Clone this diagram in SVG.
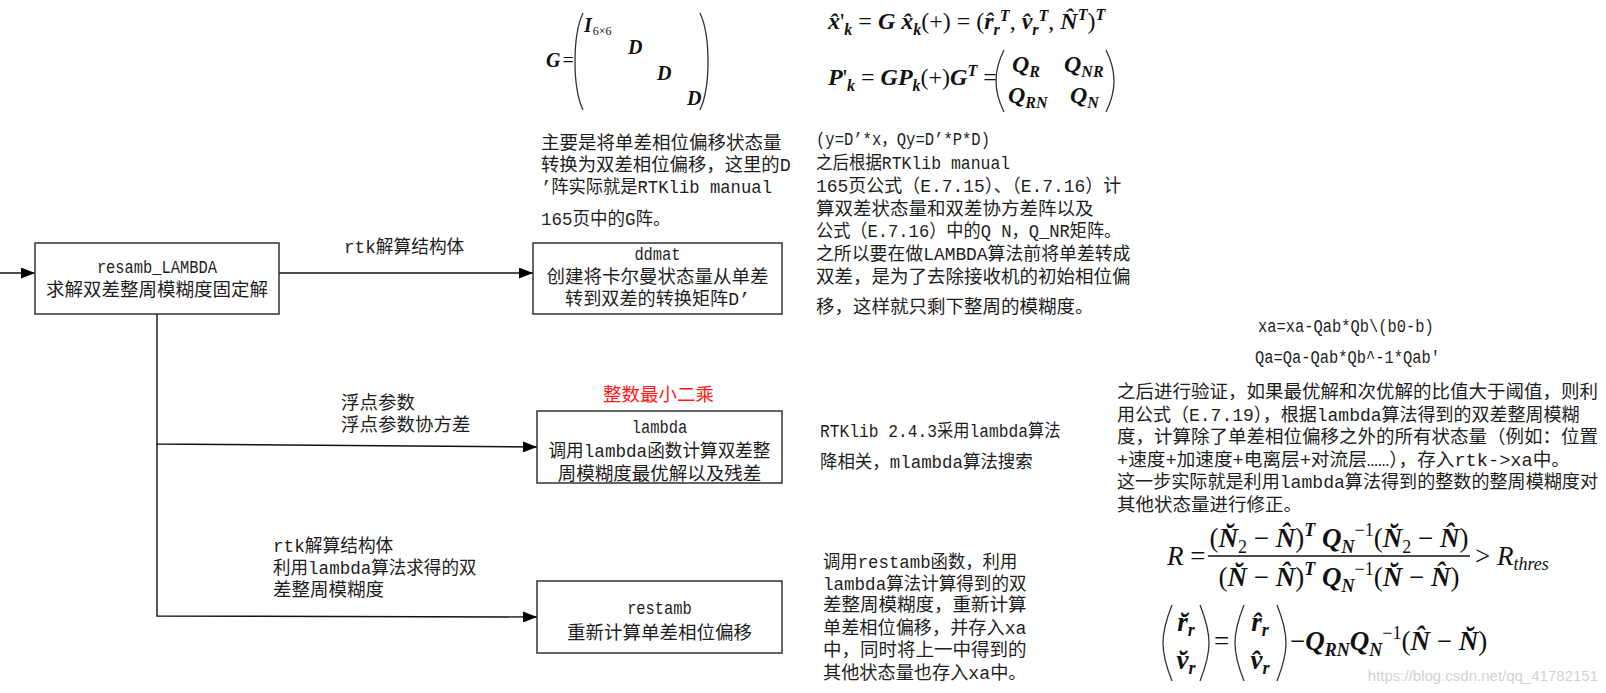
<svg xmlns="http://www.w3.org/2000/svg" width="1606" height="693" viewBox="0 0 1606 693">
<defs>
<marker id="arr" markerUnits="userSpaceOnUse" markerWidth="14" markerHeight="11" refX="14" refY="5.5" orient="auto">
<path d="M0,0 L14,5.5 L0,11 z" fill="#000"/>
</marker>
<style>
.box{fill:#fff;stroke:#333;stroke-width:1.5}
.ln{fill:none;stroke:#111;stroke-width:1.4}
.t{font-family:"Liberation Mono","Noto Sans CJK SC",monospace;font-size:18.5px;fill:#1e1e1e}
.c{text-anchor:middle}
.red{fill:#ff1a1a}
.mi{font-family:"Liberation Serif",serif;font-style:italic;font-weight:bold;fill:#111}
.mn{font-weight:normal}
.mu{font-style:normal;font-weight:normal}
.par{fill:none;stroke:#333;stroke-width:1.3}
.wm{font-family:"Liberation Sans",sans-serif;font-size:15px;fill:#d2d2d2}
</style>
</defs>
<rect width="1606" height="693" fill="#fff"/>

<g id="connectors">
<path class="ln" d="M0,273 L35,273" marker-end="url(#arr)"/>
<path class="ln" d="M279,273 L533,273" marker-end="url(#arr)"/>
<path class="ln" d="M157,314 L157,444 L537,447" marker-end="url(#arr)"/>
<path class="ln" d="M157,444 L157,616 L537,617" marker-end="url(#arr)"/>
</g>

<g id="n-resamb">
<rect class="box" x="35" y="243" width="244" height="71"/>
<text class="t c" x="157" y="273" textLength="120.25" lengthAdjust="spacingAndGlyphs">resamb_LAMBDA</text>
<text class="t c" x="157" y="296" textLength="222" lengthAdjust="spacingAndGlyphs">求解双差整周模糊度固定解</text>
</g>

<g id="n-ddmat">
<rect class="box" x="533" y="243" width="249" height="71"/>
<text class="t c" x="657.5" y="260" textLength="46.25" lengthAdjust="spacingAndGlyphs">ddmat</text>
<text class="t c" x="657.5" y="282.5" textLength="222" lengthAdjust="spacingAndGlyphs">创建将卡尔曼状态量从单差</text>
<text class="t c" x="657.5" y="305" textLength="185" lengthAdjust="spacingAndGlyphs">转到双差的转换矩阵D’</text>
</g>

<g id="n-lambda">
<rect class="box" x="537" y="411" width="245" height="72"/>
<text class="t c" x="659.5" y="433" textLength="55.5" lengthAdjust="spacingAndGlyphs">lambda</text>
<text class="t c" x="659.5" y="457" textLength="222" lengthAdjust="spacingAndGlyphs">调用lambda函数计算双差整</text>
<text class="t c" x="659.5" y="480" textLength="203.5" lengthAdjust="spacingAndGlyphs">周模糊度最优解以及残差</text>
</g>

<g id="n-restamb">
<rect class="box" x="537" y="581" width="245" height="72"/>
<text class="t c" x="659.5" y="614" textLength="64.75" lengthAdjust="spacingAndGlyphs">restamb</text>
<text class="t c" x="659.5" y="639" textLength="185" lengthAdjust="spacingAndGlyphs">重新计算单差相位偏移</text>
</g>

<g id="labels">
<text class="t" x="344" y="253" textLength="120.25" lengthAdjust="spacingAndGlyphs">rtk解算结构体</text>
<text class="t" x="341" y="409" textLength="74" lengthAdjust="spacingAndGlyphs">浮点参数</text>
<text class="t" x="341" y="431" textLength="129.5" lengthAdjust="spacingAndGlyphs">浮点参数协方差</text>
<text class="t" x="273" y="552" textLength="120.25" lengthAdjust="spacingAndGlyphs">rtk解算结构体</text>
<text class="t" x="273" y="574" textLength="203.5" lengthAdjust="spacingAndGlyphs">利用lambda算法求得的双</text>
<text class="t" x="273" y="596" textLength="111" lengthAdjust="spacingAndGlyphs">差整周模糊度</text>
<text class="t red" x="603" y="401" textLength="111" lengthAdjust="spacingAndGlyphs">整数最小二乘</text>
</g>

<g id="note-ddmat">
<text class="t" x="541" y="149" textLength="240.5" lengthAdjust="spacingAndGlyphs">主要是将单差相位偏移状态量</text>
<text class="t" x="541" y="171" textLength="249.75" lengthAdjust="spacingAndGlyphs">转换为双差相位偏移，这里的D</text>
<text class="t" x="541" y="193" textLength="231" lengthAdjust="spacingAndGlyphs">’阵实际就是RTKlib manual</text>
<text class="t" x="541" y="225" textLength="129.5" lengthAdjust="spacingAndGlyphs">165页中的G阵。</text>
</g>

<g id="note-dd">
<text class="t" x="816" y="145" textLength="174" lengthAdjust="spacingAndGlyphs">(y=D’*x，Qy=D’*P*D)</text>
<text class="t" x="816" y="169" textLength="194.25" lengthAdjust="spacingAndGlyphs">之后根据RTKlib manual</text>
<text class="t" x="816" y="192" textLength="305.25" lengthAdjust="spacingAndGlyphs">165页公式（E.7.15）、（E.7.16）计</text>
<text class="t" x="816" y="215" textLength="277.5" lengthAdjust="spacingAndGlyphs">算双差状态量和双差协方差阵以及</text>
<text class="t" x="816" y="237" textLength="305.25" lengthAdjust="spacingAndGlyphs">公式（E.7.16）中的Q N，Q_NR矩阵。</text>
<text class="t" x="816" y="260" textLength="314.5" lengthAdjust="spacingAndGlyphs">之所以要在做LAMBDA算法前将单差转成</text>
<text class="t" x="816" y="283" textLength="314.5" lengthAdjust="spacingAndGlyphs">双差，是为了去除接收机的初始相位偏</text>
<text class="t" x="816" y="313" textLength="277.5" lengthAdjust="spacingAndGlyphs">移，这样就只剩下整周的模糊度。</text>
</g>

<g id="note-lambda">
<text class="t" x="820" y="437" textLength="240.5" lengthAdjust="spacingAndGlyphs">RTKlib 2.4.3采用lambda算法</text>
<text class="t" x="820" y="468" textLength="212.75" lengthAdjust="spacingAndGlyphs">降相关，mlambda算法搜索</text>
</g>

<g id="note-restamb">
<text class="t" x="823" y="568" textLength="194.25" lengthAdjust="spacingAndGlyphs">调用restamb函数，利用</text>
<text class="t" x="823" y="590" textLength="203.5" lengthAdjust="spacingAndGlyphs">lambda算法计算得到的双</text>
<text class="t" x="823" y="611" textLength="203.5" lengthAdjust="spacingAndGlyphs">差整周模糊度，重新计算</text>
<text class="t" x="823" y="634" textLength="203.5" lengthAdjust="spacingAndGlyphs">单差相位偏移，并存入xa</text>
<text class="t" x="823" y="656" textLength="203.5" lengthAdjust="spacingAndGlyphs">中，同时将上一中得到的</text>
<text class="t" x="823" y="679" textLength="203.5" lengthAdjust="spacingAndGlyphs">其他状态量也存入xa中。</text>
</g>

<g id="note-fix">
<text class="t" x="1258" y="332" textLength="175.75" lengthAdjust="spacingAndGlyphs">xa=xa-Qab*Qb\(b0-b)</text>
<text class="t" x="1255" y="363" textLength="185" lengthAdjust="spacingAndGlyphs">Qa=Qa-Qab*Qb^-1*Qab'</text>
<text class="t" x="1117" y="398" textLength="481" lengthAdjust="spacingAndGlyphs">之后进行验证，如果最优解和次优解的比值大于阈值，则利</text>
<text class="t" x="1117" y="421" textLength="462.5" lengthAdjust="spacingAndGlyphs">用公式（E.7.19），根据lambda算法得到的双差整周模糊</text>
<text class="t" x="1117" y="443" textLength="481" lengthAdjust="spacingAndGlyphs">度，计算除了单差相位偏移之外的所有状态量（例如：位置</text>
<text class="t" x="1117" y="466" textLength="453" lengthAdjust="spacingAndGlyphs">+速度+加速度+电离层+对流层……），存入rtk-&gt;xa中。</text>
<text class="t" x="1117" y="488" textLength="481" lengthAdjust="spacingAndGlyphs">这一步实际就是利用lambda算法得到的整数的整周模糊度对</text>
<text class="t" x="1117" y="511" textLength="185" lengthAdjust="spacingAndGlyphs">其他状态量进行修正。</text>
</g>

<g id="formula-G">
<text class="mi" x="546" y="67" font-size="20">G<tspan class="mu" dx="2">=</tspan></text>
<path class="par" d="M583,13 C576,28 575,44 575,61.5 C575,79 576,95 583,110"/>
<path class="par" d="M700,13 C707,28 708,44 708,61.5 C708,79 707,95 700,110"/>
<text class="mi" x="584" y="32" font-size="20">I<tspan class="mu" font-size="12" dx="1" dy="3">6×6</tspan></text>
<text class="mi" x="628" y="54" font-size="20">D</text>
<text class="mi" x="657" y="80" font-size="20">D</text>
<text class="mi" x="687" y="105" font-size="20">D</text>
</g>

<g id="formula-x">
<text class="mi" x="828" y="29" font-size="24">x̂<tspan class="mu">'</tspan><tspan font-size="16" dy="6">k</tspan><tspan class="mu" dy="-6"> = </tspan>G x̂<tspan font-size="16" dy="6">k</tspan><tspan class="mu" dy="-6">(+) = (</tspan>r̂<tspan font-size="16" dy="6">r</tspan><tspan font-size="16" dy="-14">T</tspan><tspan class="mu" dy="8">, </tspan>v̂<tspan font-size="16" dy="6">r</tspan><tspan font-size="16" dy="-14">T</tspan><tspan class="mu" dy="8">, </tspan>N̂<tspan font-size="16" dy="-9">T</tspan><tspan class="mu" dy="9">)</tspan><tspan font-size="16" dy="-9">T</tspan></text>
<text class="mi" x="828" y="85" font-size="24">P<tspan class="mu">'</tspan><tspan font-size="16" dy="6">k</tspan><tspan class="mu" dy="-6"> = </tspan>GP<tspan font-size="16" dy="6">k</tspan><tspan class="mu" dy="-6">(+)</tspan>G<tspan font-size="16" dy="-9">T</tspan><tspan class="mu" dy="9"> =</tspan></text>
<path class="par" d="M1004,50 C997,64 996,72 996,81 C996,90 997,98 1004,112"/>
<path class="par" d="M1106,50 C1113,64 1114,72 1114,81 C1114,90 1113,98 1106,112"/>
<text class="mi" x="1012" y="72" font-size="24">Q<tspan font-size="16" dy="5">R</tspan></text>
<text class="mi" x="1064" y="72" font-size="24">Q<tspan font-size="16" dy="5">NR</tspan></text>
<text class="mi" x="1008" y="103" font-size="24">Q<tspan font-size="16" dy="5">RN</tspan></text>
<text class="mi" x="1070" y="103" font-size="24">Q<tspan font-size="16" dy="5">N</tspan></text>
</g>

<g id="formula-R">
<text class="mi mn" x="1167" y="565" font-size="27">R<tspan class="mu"> =</tspan></text>
<text class="mi c" x="1339" y="547" font-size="27"><tspan class="mu">(</tspan>N̆<tspan class="mu" font-size="18" dy="6">2</tspan><tspan class="mu" dy="-6"> − </tspan>N̂<tspan class="mu">)</tspan><tspan font-size="18" dy="-11">T</tspan><tspan dy="11"> Q</tspan><tspan font-size="18" dy="6">N</tspan><tspan class="mu" font-size="18" dy="-17">−1</tspan><tspan class="mu" dy="11">(</tspan>N̆<tspan class="mu" font-size="18" dy="6">2</tspan><tspan class="mu" dy="-6"> − </tspan>N̂<tspan class="mu">)</tspan></text>
<line x1="1208" y1="556" x2="1470" y2="556" stroke="#111" stroke-width="1.5"/>
<text class="mi c" x="1339" y="586" font-size="27"><tspan class="mu">(</tspan>N̆<tspan class="mu"> − </tspan>N̂<tspan class="mu">)</tspan><tspan font-size="18" dy="-11">T</tspan><tspan dy="11"> Q</tspan><tspan font-size="18" dy="6">N</tspan><tspan class="mu" font-size="18" dy="-17">−1</tspan><tspan class="mu" dy="11">(</tspan>N̆<tspan class="mu"> − </tspan>N̂<tspan class="mu">)</tspan></text>
<text class="mi mn" x="1475" y="565" font-size="27"><tspan class="mu">&gt; </tspan>R<tspan font-size="18" dy="5">thres</tspan></text>
</g>

<g id="formula-rv">
<path class="par" d="M1172,605 C1164,625 1163,635 1163,643 C1163,651 1164,661 1172,681"/>
<path class="par" d="M1200,605 C1208,625 1209,635 1209,643 C1209,651 1208,661 1200,681"/>
<text class="mi c" x="1186" y="631" font-size="27">r̆<tspan font-size="18" dy="5">r</tspan></text>
<text class="mi c" x="1186" y="669" font-size="27">v̆<tspan font-size="18" dy="5">r</tspan></text>
<text class="mi mu" x="1214" y="650" font-size="27">=</text>
<path class="par" d="M1244,605 C1236,625 1235,635 1235,643 C1235,651 1236,661 1244,681"/>
<path class="par" d="M1277,605 C1285,625 1286,635 1286,643 C1286,651 1285,661 1277,681"/>
<text class="mi c" x="1260" y="631" font-size="27">r̂<tspan font-size="18" dy="5">r</tspan></text>
<text class="mi c" x="1260" y="669" font-size="27">v̂<tspan font-size="18" dy="5">r</tspan></text>
<text class="mi" x="1290" y="650" font-size="27"><tspan class="mu">−</tspan>Q<tspan font-size="18" dy="6">RN</tspan><tspan dy="-6">Q</tspan><tspan font-size="18" dy="6">N</tspan><tspan class="mu" font-size="18" dy="-17">−1</tspan><tspan class="mu" dy="11">(</tspan>N̂<tspan class="mu"> − </tspan>N̆<tspan class="mu">)</tspan></text>
</g>

<text class="wm" x="1598" y="681" text-anchor="end">https://blog.csdn.net/qq_41782151</text>
</svg>
